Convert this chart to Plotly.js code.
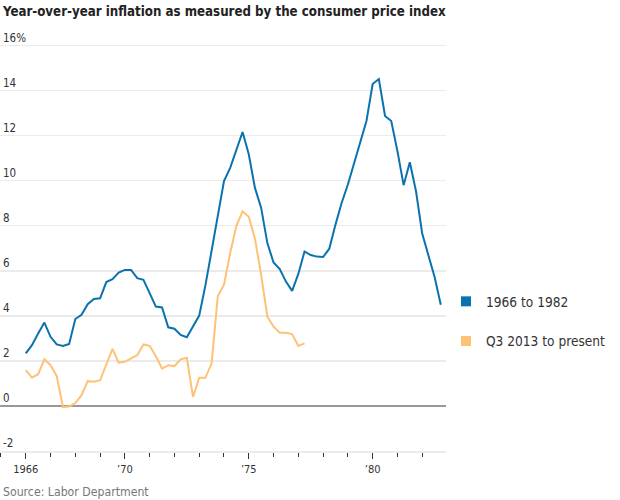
<!DOCTYPE html>
<html>
<head>
<meta charset="utf-8">
<script src="https://cdn.plot.ly/plotly-3.0.1.min.js"></script>
<style>
  html, body { margin: 0; padding: 0; background: #fff; }
  #chart { width: 620px; height: 500px; }
</style>
</head>
<body>
<div id="chart"></div>
<script>
// Quarterly year-over-year CPI inflation, %
const startYear = 1966;            // first quarter of the 1966-1982 series (Q1 1966)
const series1Name = "1966 to 1982";
const series2Name = "Q3 2013 to present";

// 1966 Q1 ... 1982 Q4
const infl1966to1982 = [
  2.33, 2.70, 3.22, 3.70, 3.07, 2.73, 2.66, 2.75,
  3.86, 4.05, 4.52, 4.75, 4.78, 5.50, 5.63, 5.92,
  6.04, 6.04, 5.67, 5.60, 5.01, 4.41, 4.37, 3.49,
  3.43, 3.15, 3.05, 3.52, 4.01, 5.35, 6.90, 8.42,
  9.98, 10.57, 11.39, 12.16, 11.17, 9.68, 8.79, 7.23,
  6.37, 6.08, 5.52, 5.11, 5.86, 6.86, 6.70, 6.63,
  6.61, 6.98, 8.05, 9.02, 9.83, 10.80, 11.76, 12.65,
  14.29, 14.51, 12.87, 12.65, 11.31, 9.80, 10.82, 9.53,
  7.65, 6.71, 5.72, 4.49
];

// 2013 Q3 ... 2024 Q4, aligned quarter-for-quarter with the 1966 series
const infl2013toNow = [
  1.59, 1.26, 1.41, 2.07, 1.81, 1.32, -0.05, -0.03,
  0.13, 0.48, 1.10, 1.07, 1.14, 1.81, 2.53, 1.92,
  1.96, 2.11, 2.25, 2.73, 2.67, 2.21, 1.66, 1.81,
  1.77, 2.07, 2.14, 0.40, 1.25, 1.25, 1.89, 4.87,
  5.38, 6.79, 8.00, 8.64, 8.40, 7.42, 5.82, 3.96,
  3.52, 3.25, 3.25, 3.19, 2.66, 2.78
];

// Axis ticks
const yTickVals = [-2, 0, 2, 4, 6, 8, 10, 12, 14, 16];
const yTickText = ["-2", "0", "2", "4", "6", "8", "10", "12", "14", "16%"];
const xTickVals = [1966, 1970, 1975, 1980];
const xTickText = ["1966", "\u201970", "\u201975", "\u201980"];

const colorBlue = "#0b72b0";
const colorOrange = "#fdc275";
const narrow = "'DejaVu Sans Condensed', 'Liberation Sans Narrow', 'Liberation Sans', sans-serif";

function quarterPositions(n) {
  const xs = [];
  for (let i = 0; i < n; i++) xs.push(startYear + i / 4);
  return xs;
}

const traces = [
  {
    type: "scatter", mode: "lines",
    x: quarterPositions(infl2013toNow.length), y: infl2013toNow,
    xaxis: "x", yaxis: "y",
    line: { color: colorOrange, width: 2 },
    showlegend: false, hoverinfo: "skip"
  },
  {
    type: "scatter", mode: "lines",
    x: quarterPositions(infl1966to1982.length), y: infl1966to1982,
    xaxis: "x", yaxis: "y2",
    line: { color: colorBlue, width: 2 },
    showlegend: false, hoverinfo: "skip"
  },
  {
    type: "scatter", mode: "markers", name: series1Name,
    x: [null], y: [null], legendgroup: "a",
    marker: { symbol: "square", size: 10, color: colorBlue }
  },
  {
    type: "scatter", mode: "markers", name: series2Name,
    x: [null], y: [null], legendgroup: "b",
    marker: { symbol: "square", size: 10, color: colorOrange }
  }
];

const yRange = [-2, 17];

// 22.5 px per percentage point; 16 sits at y=45.7 px, -2 at y=451 px
const layout = {
  width: 620, height: 500,
  paper_bgcolor: "#fff", plot_bgcolor: "#fff",
  margin: { l: 0, r: 170, t: 23.2, b: 49, pad: 0 },
  font: { family: narrow, color: "#333" },
  title: {
    text: "<b>Year-over-year inflation as measured by the consumer price index</b>",
    font: { family: narrow, size: 13.2, color: "#222" },
    xref: "container", x: 3 / 620, xanchor: "left",
    yref: "container", y: 1 - 6.5 / 500, yanchor: "top"
  },
  xaxis: {
    range: [1964.96, 1982.96],
    tickmode: "array", tickvals: xTickVals, ticktext: xTickText,
    ticks: "outside", ticklen: 6, tickwidth: 1, tickcolor: "#333",
    minor: { tickmode: "linear", tick0: 1966, dtick: 1, ticks: "outside", ticklen: 4, tickcolor: "#333", showgrid: false },
    showgrid: false, zeroline: false,
    showline: true, linecolor: "#ebebeb", linewidth: 1.5,
    tickfont: { family: narrow, size: 11, color: "#333" },
    ticklabelstandoff: 1,
    fixedrange: true
  },
  yaxis: {
    range: yRange,
    tickmode: "array", tickvals: yTickVals,
    showticklabels: false,
    ticks: "", showgrid: true, gridcolor: "#ebebeb", gridwidth: 1.5,
    zeroline: true, zerolinecolor: "#999", zerolinewidth: 2,
    showline: false,
    fixedrange: true
  },
  yaxis2: {
    range: yRange,
    overlaying: "y", side: "right", anchor: "free", position: 0,
    tickmode: "array", tickvals: yTickVals, ticktext: yTickText,
    ticks: "", showgrid: false, zeroline: false, showline: false,
    ticklabelposition: "outside top",
    ticklabelstandoff: 2,
    tickfont: { family: narrow, size: 11.5, color: "#333" },
    fixedrange: true
  },
  legend: {
    xref: "container", yref: "container",
    x: 446 / 620, y: 1 - 286 / 500, xanchor: "left", yanchor: "top",
    traceorder: "grouped", tracegroupgap: 19,
    font: { family: narrow, size: 13.6, color: "#333" },
    bgcolor: "rgba(0,0,0,0)"
  },
  annotations: [
    {
      text: "Source: Labor Department",
      xref: "paper", yref: "paper", x: 0.002, y: (451 - 492) / (451 - 23.2),
      xanchor: "left", yanchor: "middle", showarrow: false,
      font: { family: narrow, size: 12.2, color: "#777" }
    }
  ]
};

Plotly.newPlot("chart", traces, layout, { displayModeBar: false, staticPlot: true });
</script>
</body>
</html>
